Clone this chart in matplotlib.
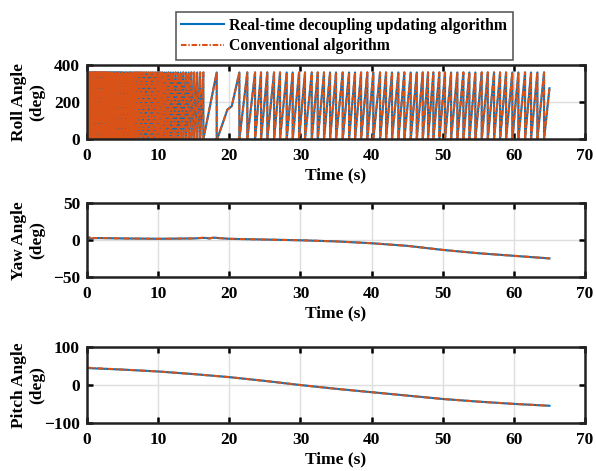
import numpy as np
import matplotlib.pyplot as plt

plt.rcParams["font.family"] = "Liberation Serif"
plt.rcParams["font.weight"] = "bold"
plt.rcParams["axes.labelweight"] = "bold"
plt.rcParams["lines.scale_dashes"] = False

BLUE = "#0072BD"
ORANGE = "#D95319"
DASHDOT = (0, (4.0, 1.3, 1.0, 1.3))

# roll angle wraps 0 -> 360; times (s) at which it resets to 0
roll_wrap_fast = [
    0.00, 0.14, 0.28, 0.42, 0.56, 0.70, 0.84, 0.98, 1.12, 1.26, 1.40, 1.54,
    1.68, 1.82, 1.96, 2.10, 2.24, 2.38, 2.52, 2.66, 2.80, 2.94, 3.08, 3.22,
    3.36, 3.50, 3.64, 3.78, 3.92, 4.06, 4.20, 4.34, 4.48, 4.62, 4.76, 4.90,
    5.08, 5.26, 5.45, 5.64, 5.83, 6.02, 6.21, 6.40, 6.60, 6.80, 7.00, 7.20,
    7.41, 7.62, 7.84, 8.08, 8.34, 8.60, 8.87, 9.14, 9.41, 9.69, 9.97, 10.26,
    10.55, 10.85, 11.15, 11.46, 11.77, 12.10, 12.45, 12.80, 13.16, 13.53,
    13.90, 14.28, 14.67, 15.07, 15.48, 15.90, 16.35, 18.23,
]
# slow passage between 18 s and 21 s
roll_slow_t = [18.23, 18.46, 19.73, 20.34, 21.41]
roll_slow_deg = [0, 18, 160, 178, 360]
roll_wrap_slow = [
    21.41, 22.53, 23.62, 24.46, 25.34, 26.29, 27.13, 28.07, 28.91, 29.80,
    30.64, 31.59, 32.43, 33.31, 34.16, 35.00, 35.94, 36.83, 37.67, 38.52,
    39.40, 40.24, 41.19, 42.03, 42.87, 43.76, 44.60, 45.50, 46.35, 47.19,
    47.93, 48.68, 49.52, 50.32, 51.17, 52.05, 52.90, 53.74, 54.58, 55.48,
    56.33, 57.21, 58.06, 58.90, 59.78, 60.63, 61.57, 62.41, 63.30, 64.24,
]
roll_end = (65.0, 275)

yaw_t = [0.0, 0.1, 0.3, 0.6, 1.0, 2.0, 5.0, 10.0, 15.0, 16.5, 17.2, 17.8,
         18.5, 20.0, 25.0, 30.0, 35.0, 40.0, 45.0, 50.0, 55.0, 60.0, 65.0]
yaw_new = [5.0, 1.5, 4.0, 2.0, 3.0, 3.0, 2.5, 2.0, 2.5, 3.2, 2.6, 3.5,
           3.0, 2.0, 1.0, 0.0, -1.5, -4.0, -7.5, -13.0, -17.5, -21.0, -24.5]
yaw_conv = [6.0, 1.0, 4.5, 2.0, 3.0, 3.0, 2.5, 2.0, 2.5, 3.6, 2.4, 3.8,
            3.0, 2.0, 1.0, 0.0, -1.5, -4.0, -7.5, -13.0, -17.5, -21.0, -24.5]

pitch_t = [0, 5, 10, 15, 20, 25, 30, 35, 40, 45, 50, 55, 60, 65]
pitch_new = [45, 41, 36, 29, 21, 11, 0, -10, -19, -28, -37, -44, -50, -55]
pitch_conv = [46, 41, 36, 29, 21, 11, 0, -10, -19, -28, -37, -44, -50, -55]


def sawtooth(wraps):
    t, a = [], []
    for t0, t1 in zip(wraps[:-1], wraps[1:]):
        t += [t0, t1]
        a += [0, 360]
    return t, a


t1, a1 = sawtooth(roll_wrap_fast)
t2, a2 = sawtooth(roll_wrap_slow)
roll_t = t1 + roll_slow_t + t2 + [roll_wrap_slow[-1], roll_end[0]]
roll_deg = a1 + roll_slow_deg + a2 + [0, roll_end[1]]

fig = plt.figure(figsize=(5.96, 4.71), dpi=100)
ax_roll = fig.add_axes([0.146, 0.7042, 0.8356, 0.1578])
ax_yaw = fig.add_axes([0.146, 0.4113, 0.8356, 0.1571])
ax_pitch = fig.add_axes([0.146, 0.1025, 0.8356, 0.1600])

panels = [
    (ax_roll, roll_t, roll_deg, roll_t, roll_deg, (0, 400), [0, 200, 400], "Roll Angle\n(deg)"),
    (ax_yaw, yaw_t, yaw_new, yaw_t, yaw_conv, (-50, 50), [-50, 0, 50], "Yaw Angle\n(deg)"),
    (ax_pitch, pitch_t, pitch_new, pitch_t, pitch_conv, (-100, 100), [-100, 0, 100], "Pitch Angle\n(deg)"),
]

for ax, tn, yn, tc, yc, ylim, yticks, ylab in panels:
    l1, = ax.plot(tn, yn, color=BLUE, lw=1.5, label="Real-time decoupling updating algorithm")
    l2, = ax.plot(tc, yc, color=ORANGE, lw=1.5, ls=DASHDOT, label="Conventional algorithm")
    ax.set_xlim(0, 70)
    ax.set_ylim(*ylim)
    ax.set_xticks(range(0, 71, 10))
    ax.set_yticks(yticks)
    ax.grid(True, color="#dedede", lw=1.0)
    ax.set_axisbelow(True)
    ax.tick_params(direction="in", top=True, right=True, length=4, width=1.8,
                   labelsize=12.5)
    ax.tick_params(axis="x", pad=6.5)
    ax.tick_params(axis="y", pad=5)
    for s in ax.spines.values():
        s.set_linewidth(1.8)
        s.set_color("#222222")
    ax.set_xlabel("Time (s)", fontsize=12.5, labelpad=2.5)
    ax.set_ylabel(ylab, fontsize=12.5, linespacing=1.15)
    ax.yaxis.set_label_coords(-0.084, 0.5)

leg = fig.legend(handles=[l1, l2], loc="upper left", bbox_to_anchor=(0.2953, 0.9745),
                 fontsize=11.3, frameon=True, fancybox=False, edgecolor="#333333",
                 borderpad=0.35, handlelength=2.7, handletextpad=0.35, labelspacing=0.3,
                 borderaxespad=0)
leg.get_frame().set_linewidth(1.2)
for h in leg.get_lines():
    h.set_linewidth(1.5)

fig.savefig("out.png", dpi=100)
